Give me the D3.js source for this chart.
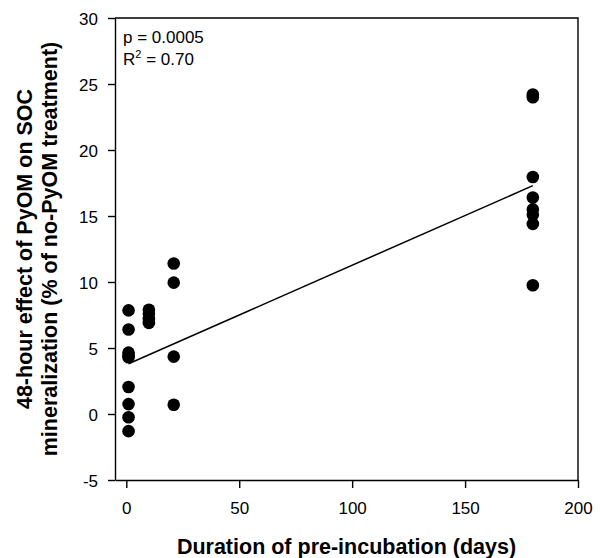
<!DOCTYPE html>
<html>
<head>
<meta charset="utf-8">
<script src="https://cdn.jsdelivr.net/npm/d3@7"></script>
<style>
  body { margin: 0; background: #fff; }
  svg { display: block; font-family: "Liberation Sans", Arial, sans-serif; }
</style>
</head>
<body>
<div id="chart"></div>
<script>
// Pre-incubation days and PyOM effect (% of no-PyOM treatment)
const days = [
    1, 1, 1, 1, 1, 1, 1, 1, 1,
    10, 10, 10, 10,
    21, 21, 21, 21,
    180, 180, 180, 180, 180, 180, 180, 180
];
const effect = [
    7.85, 6.4, 4.65, 4.45, 4.3, 2.05, 0.75, -0.25, -1.3,
    7.9, 7.6, 7.2, 6.9,
    11.4, 9.95, 4.35, 0.7,
    24.2, 24.0, 17.95, 16.4, 15.5, 15.1, 14.4, 9.75
];
// fitted regression line end points
const fitX = [1, 180];
const fitY = [3.81, 17.3];

const xTicks = [0, 50, 100, 150, 200];
const yTicks = [-5, 0, 5, 10, 15, 20, 25, 30];

const width = 600, height = 558;
const margin = { top: 18, right: 22, bottom: 78, left: 115 };

const svg = d3.select('#chart').append('svg')
    .attr('width', width)
    .attr('height', height);

const x = d3.scaleLinear().domain([-5, 200]).range([margin.left, width - margin.right]);
const y = d3.scaleLinear().domain([-5, 30]).range([height - margin.bottom, margin.top]);

// Frame (top and right)
svg.append('path')
    .attr('d', `M${x(-5)},${y(30)}H${x(200)}V${y(-5)}`)
    .attr('fill', 'none')
    .attr('stroke', '#000')
    .attr('stroke-width', 1.4);

// Axes (plain hyphen for negatives, like the original)
const fmt = d => String(d);

const xAxis = svg.append('g')
    .attr('transform', `translate(0,${y(-5)})`)
    .call(d3.axisBottom(x).tickValues(xTicks).tickFormat(fmt)
        .tickSize(8).tickPadding(10).tickSizeOuter(0));

const yAxis = svg.append('g')
    .attr('transform', `translate(${x(-5)},0)`)
    .call(d3.axisLeft(y).tickValues(yTicks).tickFormat(fmt)
        .tickSize(7).tickPadding(10).tickSizeOuter(0));

[xAxis, yAxis].forEach(a => {
    a.select('.domain').attr('stroke-width', 1.4);
    a.selectAll('.tick line').attr('stroke-width', 1.4);
    a.selectAll('.tick text')
        .attr('font-size', 17)
        .attr('font-family', '"Liberation Sans", Arial, sans-serif')
        .attr('fill', '#000');
});
xAxis.selectAll('.tick text').attr('dy', null).attr('y', 34);
yAxis.selectAll('.tick text').attr('dy', '0.36em');

// Regression line
svg.append('line')
    .attr('x1', x(fitX[0])).attr('y1', y(fitY[0]))
    .attr('x2', x(fitX[1])).attr('y2', y(fitY[1]))
    .attr('stroke', '#000')
    .attr('stroke-width', 1.5);

// Points
svg.append('g')
    .selectAll('circle')
    .data(days.map((d, i) => ({ d, v: effect[i] })))
    .join('circle')
    .attr('cx', p => x(p.d))
    .attr('cy', p => y(p.v))
    .attr('r', 6.3)
    .attr('fill', '#000');

// Stats annotation
svg.append('text')
    .attr('x', 123).attr('y', 43)
    .attr('font-size', 17)
    .text('p = 0.0005');

const r2 = svg.append('text')
    .attr('x', 123).attr('y', 65)
    .attr('font-size', 17);
r2.append('tspan').text('R');
r2.append('tspan').attr('font-size', 11).attr('dy', -7).text('2');
r2.append('tspan').attr('dy', 7).text(' = 0.70');

// Axis titles
svg.append('text')
    .attr('x', (x(-5) + x(200)) / 2)
    .attr('y', 554)
    .attr('text-anchor', 'middle')
    .attr('font-size', 21.5)
    .attr('font-weight', 'bold')
    .text('Duration of pre-incubation (days)');

const cy = (y(-5) + y(30)) / 2;
svg.append('text')
    .attr('transform', `translate(32,${cy}) rotate(-90)`)
    .attr('text-anchor', 'middle')
    .attr('font-size', 21.5)
    .attr('font-weight', 'bold')
    .text('48-hour effect of PyOM on SOC');

svg.append('text')
    .attr('transform', `translate(57,${cy}) rotate(-90)`)
    .attr('text-anchor', 'middle')
    .attr('font-size', 21.5)
    .attr('font-weight', 'bold')
    .text('mineralization (% of no-PyOM treatment)');
</script>
</body>
</html>
